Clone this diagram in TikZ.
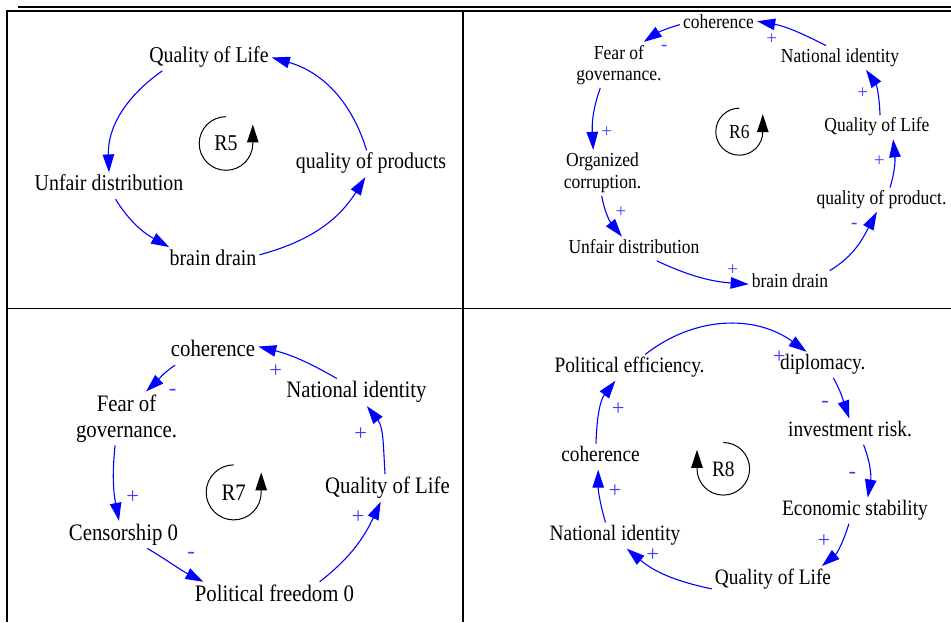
\documentclass[tikz,border=0pt]{standalone}
\usepackage{fontspec}
\setmainfont{Liberation Serif}[FakeStretch=0.88]
\newfontfamily\signfont{Liberation Serif}
\usetikzlibrary{arrows.meta}
\definecolor{linkblue}{RGB}{0,0,255}
\definecolor{signblue}{RGB}{60,60,255}
\tikzset{
  lbl/.style 2 args={anchor=base, inner sep=3pt, text height=#1, text depth=#2},
  la/.style={lbl={15.4pt}{5pt}},
  lb/.style={lbl={13.5pt}{4.4pt}},
  lc/.style={lbl={16pt}{5.2pt}},
  ld/.style={lbl={15pt}{4.8pt}},
  ltwo/.style={anchor=center, align=center, inner sep=3pt},
  lnk/.style={draw=linkblue, line width=1.1pt, -{Triangle[length=18pt,width=11.5pt]}},
  sgn/.style={text=signblue, inner sep=0pt, anchor=center},
  sgnb/.style={sgn, font=\signfont\fontsize{19}{19}\selectfont},
  sgnc/.style={sgn, font=\signfont\fontsize{22.5}{22.5}\selectfont},
  rlab/.style={anchor=center, inner sep=0pt},
  loopar/.style={draw=black, line width=1pt, -{Triangle[length=18pt,width=11.5pt]}},
  frame/.style={draw=black, line width=1.8pt},
}
\begin{document}
\begin{tikzpicture}[x=1pt,y=1pt]
\useasboundingbox (0,0) rectangle (951,622);
% frame
\draw[frame] (17.7,615) -- (951,615);
\draw[frame] (951,611.3) -- (7.3,611.3) -- (7.3,0);
\draw[frame] (463,611.3) -- (463,0);
\draw[frame] (7.3,313.4) -- (951,313.4);

% ---------- Panel R5 ----------
\begin{scope}[font=\fontsize{22.6}{24.4}\selectfont]
\node[la] (q1) at (209,559.3) {Quality of Life};
\node[la] (u1) at (109,431) {Unfair distribution};
\node[la] (b1) at (213,356.3) {brain drain};
\node[la] (p1) at (371,453) {quality of products};
\node[rlab] (r5) at (226,478.5) {R5};
\draw[lnk] (q1.196) to[out=215,in=92] (u1.north);
\draw[lnk] (u1.296) to[out=302,in=151] (b1.163);
\draw[lnk] (b1.7) to[out=15,in=238] (p1.247);
\draw[lnk] (p1.108) to[out=107,in=344] (q1.east);
\draw[loopar] ([yshift=26.8pt]r5.center) arc[start angle=90,end angle=360,radius=26.8] -- ++(0,19);
\end{scope}

% ---------- Panel R6 ----------
\begin{scope}[font=\fontsize{19.9}{21.5}\selectfont]
\node[lb] (co2) at (718.5,593.5) {coherence};
\node[ltwo] (fe2) at (619,557) {Fear of\\governance.};
\node[ltwo] (oc2) at (602.5,449.1) {Organized\\corruption.};
\node[lb] (ud2) at (634,368.7) {Unfair distribution};
\node[lb] (bd2) at (790,334.7) {brain drain};
\node[lb] (qp2) at (881.5,417.7) {quality of product.};
\node[lb] (ql2) at (877,490.3) {Quality of Life};
\node[lb] (ni2) at (840,559.7) {National identity};
\node[rlab] (r6) at (739.3,490.3) {R6};
\draw[lnk] (ni2.139) to[out=153,in=-10] (co2.4);
\draw[lnk] (co2.181) to[out=196,in=34] (fe2.43);
\draw[lnk] (fe2.231) to[out=250,in=93] (oc2.112);
\draw[lnk] (oc2.268) to[out=280,in=129] (ud2.135);
\draw[lnk] (ud2.332) to[out=335,in=176] (bd2.182);
\draw[lnk] (bd2.17) to[out=31,in=242] (qp2.249);
\draw[lnk] (qp2.55) to[out=73,in=276] (ql2.323);
\draw[lnk] (ql2.76) to[out=92,in=305] (ni2.335);
\draw[loopar] ([yshift=23.5pt]r6.center) arc[start angle=90,end angle=360,radius=23.5] -- ++(0,17.5);
\node[sgnb] (s21) at (771.7,582.7) {+};
\node[sgnb] (s22) at (664.3,574.3) {-};
\node[sgnb] (s23) at (606.7,489.7) {+};
\node[sgnb] (s24) at (621,410) {+};
\node[sgnb] (s25) at (732.7,352) {+};
\node[sgnb] (s26) at (854.3,396.3) {-};
\node[sgnb] (s27) at (879.3,461) {+};
\node[sgnb] (s28) at (862.7,529.3) {+};
\end{scope}

% ---------- Panel R7 ----------
\begin{scope}[font=\fontsize{23.6}{25.7}\selectfont]
\node[lc] (co3) at (213,265.3) {coherence};
\node[ltwo] (fe3) at (126.5,203.6) {Fear of\\governance.};
\node[lc] (ce3) at (123.5,82) {Censorship 0};
\node[lc] (pf3) at (274.5,21) {Political freedom 0};
\node[lc] (ql3) at (387.5,128.7) {Quality of Life};
\node[lc] (ni3) at (356.5,224.3) {National identity};
\node[rlab] (r7) at (233.7,129.6) {R7};
\draw[lnk] (ni3.145) to[out=150,in=346] (co3.6);
\draw[lnk] (co3.200) to[out=214,in=43] (fe3.54);
\draw[lnk] (fe3.247) to[out=264,in=101] (ce3.108);
\draw[lnk] (ce3.330) to[out=329,in=153] (pf3.169);
\draw[lnk] (pf3.17) to[out=38,in=245] (ql3.244);
\draw[lnk] (ql3.100) to[out=94,in=308] (ni3.307);
\draw[loopar] ([yshift=27.5pt]r7.center) arc[start angle=90,end angle=360,radius=27.5] -- ++(0,20);
\node[sgnc] (s31) at (275.7,251.3) {+};
\node[sgnc] (s32) at (172.7,229.7) {-};
\node[sgnc] (s33) at (132.7,124.7) {+};
\node[sgnc] (s34) at (191,66.3) {-};
\node[sgnc] (s35) at (358.3,104.7) {+};
\node[sgnc] (s36) at (360.7,187.7) {+};
\end{scope}

% ---------- Panel R8 ----------
\begin{scope}[font=\fontsize{22}{23.8}\selectfont]
\node[ld] (pe4) at (629.5,249.3) {Political efficiency.};
\node[ld] (di4) at (822.8,252) {diplomacy.};
\node[ld] (ir4) at (850,185.3) {investment risk.};
\node[ld] (es4) at (855,106.3) {Economic stability};
\node[ld] (ql4) at (773,37.7) {Quality of Life};
\node[ld] (ni4) at (615,81.3) {National identity};
\node[ld] (co4) at (600.5,160.3) {coherence};
\node[rlab] (r8) at (723.3,153.2) {R8};
\draw[lnk] (pe4.40) to[out=38,in=144] (di4.141);
\draw[lnk] (di4.309) to[out=299,in=109] (ir4.93);
\draw[lnk] (ir4.316) to[out=291,in=80] (es4.46);
\draw[lnk] (es4.245) to[out=253,in=40] (ql4.15);
\draw[lnk] (ql4.189) to[out=168,in=320] (ni4.312);
\draw[lnk] (ni4.126) to[out=106,in=270] (co4.260);
\draw[lnk] (co4.109) to[out=88,in=232] (pe4.223);
\draw[loopar] ([yshift=26.3pt]r8.center) arc[start angle=90,end angle=-180,radius=26.3] -- ++(0,19);
\node[sgnc] (s41) at (779.3,265.3) {+};
\node[sgnc] (s42) at (825,218) {-};
\node[sgnc] (s43) at (852.3,147) {-};
\node[sgnc] (s44) at (824,81.3) {+};
\node[sgnc] (s45) at (652.7,67) {+};
\node[sgnc] (s46) at (615,131.3) {+};
\node[sgnc] (s47) at (618.3,213) {+};
\end{scope}
\end{tikzpicture}
\end{document}
